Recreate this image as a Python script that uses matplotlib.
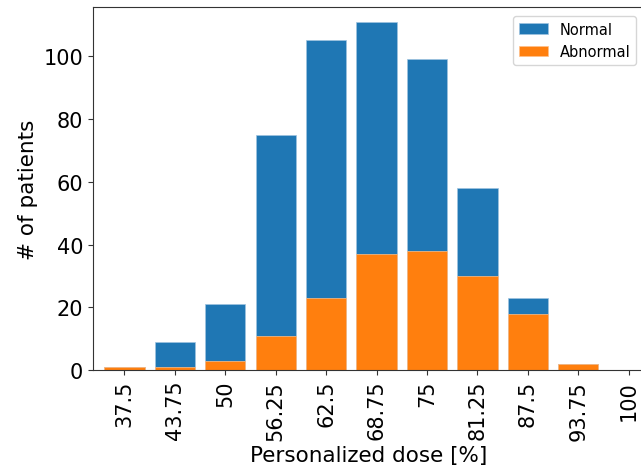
import numpy as np
import matplotlib
matplotlib.use('Agg')
import matplotlib.pyplot as plt

# dose levels and patient counts
dose = [37.5, 43.75, 50, 56.25, 62.5, 68.75, 75, 81.25, 87.5, 93.75, 100]
dose_labels = ['37.5', '43.75', '50', '56.25', '62.5', '68.75', '75', '81.25', '87.5', '93.75', '100']
total = [1, 9, 21, 75, 105, 111, 99, 58, 23, 2, 0]
abnormal = [1, 1, 3, 11, 23, 37, 38, 30, 18, 2, 0]

fig = plt.figure(figsize=(6.41, 4.77), dpi=100)
# right edge of the axes runs just past the figure (the original was cropped)
ax = fig.add_axes([0.145, 0.222, 0.861, 0.761])

ax.bar(dose, total, width=5, color='#1f77b4', edgecolor='#9ec3e0', linewidth=0.5, label='Normal')
ax.bar(dose, abnormal, width=5, color='#ff7f0e', edgecolor='#ffc08a', linewidth=0.5, label='Abnormal')

ax.set_xticks(dose)
ax.set_xticklabels(dose_labels, rotation=90, fontsize=15)
ax.tick_params(axis='y', labelsize=15)
ax.tick_params(colors='#333333', labelcolor='black')
for s in ax.spines.values():
    s.set_color('#333333')
ax.set_xlim(33.6, 102)
ax.set_ylim(0, 115.6)
ax.set_xlabel('Personalized dose [%]', fontsize=15.5)
ax.set_ylabel('# of patients', fontsize=15.5)
ax.legend(loc='upper right', fontsize=10.5, borderaxespad=0.6)

fig.savefig('out.png', dpi=100)
